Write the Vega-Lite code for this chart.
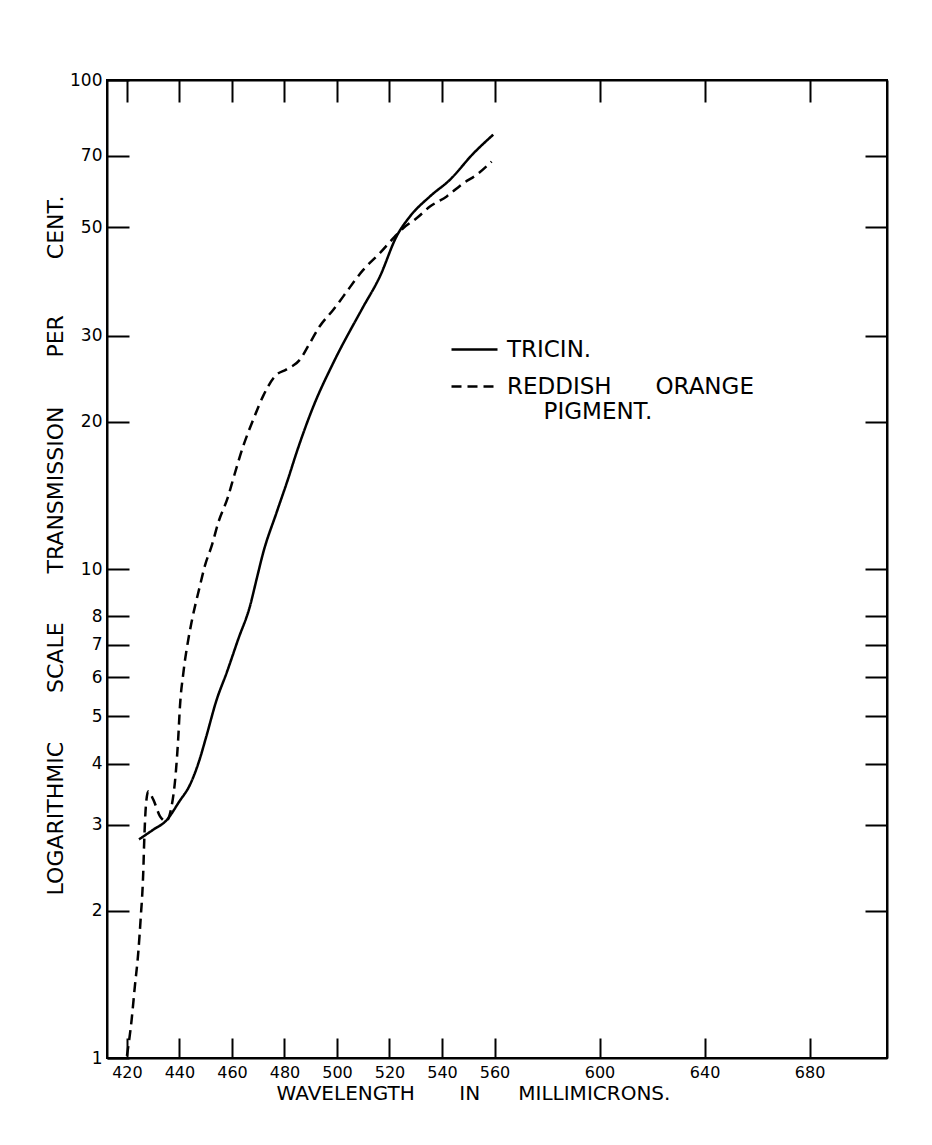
{
  "$schema": "https://vega.github.io/schema/vega-lite/v6.json",
  "width": 780,
  "height": 978,
  "autosize": "none",
  "padding": {"left": 107, "top": 80, "right": 45, "bottom": 87},
  "background": "white",
  "config": {
    "view": {"stroke": "black", "strokeWidth": 2},
    "axis": {"grid": false, "domainColor": "black", "domainWidth": 2, "tickColor": "black", "tickWidth": 2, "labelColor": "black", "titleColor": "black", "labelFont": "DejaVu Sans", "titleFont": "DejaVu Sans", "titleFontWeight": "normal"}
  },
  "data": {"values": [
    {"series": "TRICIN.", "wavelength": 424.6, "transmission": 2.80},
    {"series": "TRICIN.", "wavelength": 430, "transmission": 2.93},
    {"series": "TRICIN.", "wavelength": 435, "transmission": 3.06},
    {"series": "TRICIN.", "wavelength": 440, "transmission": 3.35},
    {"series": "TRICIN.", "wavelength": 444, "transmission": 3.62},
    {"series": "TRICIN.", "wavelength": 447.5, "transmission": 4.05},
    {"series": "TRICIN.", "wavelength": 450, "transmission": 4.5},
    {"series": "TRICIN.", "wavelength": 454.2, "transmission": 5.41},
    {"series": "TRICIN.", "wavelength": 458, "transmission": 6.14},
    {"series": "TRICIN.", "wavelength": 462.4, "transmission": 7.19},
    {"series": "TRICIN.", "wavelength": 466.9, "transmission": 8.41},
    {"series": "TRICIN.", "wavelength": 469.4, "transmission": 9.54},
    {"series": "TRICIN.", "wavelength": 471.9, "transmission": 10.8},
    {"series": "TRICIN.", "wavelength": 477, "transmission": 13.05},
    {"series": "TRICIN.", "wavelength": 481.4, "transmission": 15.3},
    {"series": "TRICIN.", "wavelength": 484.6, "transmission": 17.3},
    {"series": "TRICIN.", "wavelength": 491, "transmission": 21.5},
    {"series": "TRICIN.", "wavelength": 498.6, "transmission": 26.4},
    {"series": "TRICIN.", "wavelength": 509.5, "transmission": 34.0},
    {"series": "TRICIN.", "wavelength": 516.4, "transmission": 39.7},
    {"series": "TRICIN.", "wavelength": 522.7, "transmission": 47.9},
    {"series": "TRICIN.", "wavelength": 527.8, "transmission": 52.6},
    {"series": "TRICIN.", "wavelength": 535.4, "transmission": 57.8},
    {"series": "TRICIN.", "wavelength": 543, "transmission": 62.5},
    {"series": "TRICIN.", "wavelength": 552, "transmission": 70.8},
    {"series": "TRICIN.", "wavelength": 559.5, "transmission": 77.3},
    {"series": "REDDISH ORANGE PIGMENT.", "wavelength": 420, "transmission": 1.01},
    {"series": "REDDISH ORANGE PIGMENT.", "wavelength": 421.8, "transmission": 1.20},
    {"series": "REDDISH ORANGE PIGMENT.", "wavelength": 423, "transmission": 1.40},
    {"series": "REDDISH ORANGE PIGMENT.", "wavelength": 424.3, "transmission": 1.64},
    {"series": "REDDISH ORANGE PIGMENT.", "wavelength": 425.2, "transmission": 1.92},
    {"series": "REDDISH ORANGE PIGMENT.", "wavelength": 426.2, "transmission": 2.39},
    {"series": "REDDISH ORANGE PIGMENT.", "wavelength": 426.6, "transmission": 2.80},
    {"series": "REDDISH ORANGE PIGMENT.", "wavelength": 427.2, "transmission": 3.27},
    {"series": "REDDISH ORANGE PIGMENT.", "wavelength": 428.1, "transmission": 3.51},
    {"series": "REDDISH ORANGE PIGMENT.", "wavelength": 430, "transmission": 3.38},
    {"series": "REDDISH ORANGE PIGMENT.", "wavelength": 432.6, "transmission": 3.12},
    {"series": "REDDISH ORANGE PIGMENT.", "wavelength": 434.9, "transmission": 3.05},
    {"series": "REDDISH ORANGE PIGMENT.", "wavelength": 437, "transmission": 3.27},
    {"series": "REDDISH ORANGE PIGMENT.", "wavelength": 438.6, "transmission": 3.83},
    {"series": "REDDISH ORANGE PIGMENT.", "wavelength": 439.5, "transmission": 4.48},
    {"series": "REDDISH ORANGE PIGMENT.", "wavelength": 440.2, "transmission": 5.25},
    {"series": "REDDISH ORANGE PIGMENT.", "wavelength": 441.5, "transmission": 6.14},
    {"series": "REDDISH ORANGE PIGMENT.", "wavelength": 443.4, "transmission": 7.19},
    {"series": "REDDISH ORANGE PIGMENT.", "wavelength": 444.6, "transmission": 7.78},
    {"series": "REDDISH ORANGE PIGMENT.", "wavelength": 447.8, "transmission": 9.24},
    {"series": "REDDISH ORANGE PIGMENT.", "wavelength": 449.7, "transmission": 10.16},
    {"series": "REDDISH ORANGE PIGMENT.", "wavelength": 452.3, "transmission": 11.16},
    {"series": "REDDISH ORANGE PIGMENT.", "wavelength": 454.8, "transmission": 12.45},
    {"series": "REDDISH ORANGE PIGMENT.", "wavelength": 458.6, "transmission": 14.1},
    {"series": "REDDISH ORANGE PIGMENT.", "wavelength": 460.5, "transmission": 15.3},
    {"series": "REDDISH ORANGE PIGMENT.", "wavelength": 464.3, "transmission": 17.85},
    {"series": "REDDISH ORANGE PIGMENT.", "wavelength": 468.1, "transmission": 20.2},
    {"series": "REDDISH ORANGE PIGMENT.", "wavelength": 471.9, "transmission": 22.6},
    {"series": "REDDISH ORANGE PIGMENT.", "wavelength": 476.4, "transmission": 24.8},
    {"series": "REDDISH ORANGE PIGMENT.", "wavelength": 480.8, "transmission": 25.6},
    {"series": "REDDISH ORANGE PIGMENT.", "wavelength": 485.9, "transmission": 26.8},
    {"series": "REDDISH ORANGE PIGMENT.", "wavelength": 489.7, "transmission": 29.0},
    {"series": "REDDISH ORANGE PIGMENT.", "wavelength": 493.5, "transmission": 31.4},
    {"series": "REDDISH ORANGE PIGMENT.", "wavelength": 498.6, "transmission": 33.9},
    {"series": "REDDISH ORANGE PIGMENT.", "wavelength": 502.4, "transmission": 36.1},
    {"series": "REDDISH ORANGE PIGMENT.", "wavelength": 510, "transmission": 40.9},
    {"series": "REDDISH ORANGE PIGMENT.", "wavelength": 516.4, "transmission": 44.3},
    {"series": "REDDISH ORANGE PIGMENT.", "wavelength": 522.1, "transmission": 47.9},
    {"series": "REDDISH ORANGE PIGMENT.", "wavelength": 525.3, "transmission": 49.8},
    {"series": "REDDISH ORANGE PIGMENT.", "wavelength": 530.4, "transmission": 52.2},
    {"series": "REDDISH ORANGE PIGMENT.", "wavelength": 535.4, "transmission": 55.1},
    {"series": "REDDISH ORANGE PIGMENT.", "wavelength": 541.8, "transmission": 57.8},
    {"series": "REDDISH ORANGE PIGMENT.", "wavelength": 548.1, "transmission": 61.5},
    {"series": "REDDISH ORANGE PIGMENT.", "wavelength": 553.2, "transmission": 64.0},
    {"series": "REDDISH ORANGE PIGMENT.", "wavelength": 558.9, "transmission": 68.1}
  ]},
  "layer": [
    {
      "mark": {"type": "line", "interpolate": "monotone", "color": "black", "strokeWidth": 2.5},
      "encoding": {
        "x": {"field": "wavelength", "type": "quantitative",
          "scale": {"domain": [412.4, 709.5], "nice": false, "zero": false},
          "axis": {"orient": "bottom", "values": [420, 440, 460, 480, 500, 520, 540, 560, 600, 640, 680], "tickSize": -20, "labelPadding": 34, "labelBaseline": "middle", "labelFontSize": 16, "labelFlush": false, "labelOverlap": false,
            "title": "WAVELENGTH\u00a0\u00a0\u00a0\u00a0\u00a0\u00a0\u00a0IN\u00a0\u00a0\u00a0\u00a0\u00a0\u00a0MILLIMICRONS.", "titleFontSize": 20, "titleX": 366, "titleY": 35, "titleAlign": "center", "titleBaseline": "middle"}},
        "y": {"field": "transmission", "type": "quantitative",
          "scale": {"type": "log", "domain": [1, 100], "nice": false},
          "axis": {"orient": "left", "values": [1, 2, 3, 4, 5, 6, 7, 8, 10, 20, 30, 50, 70, 100], "tickSize": -22, "labelPadding": 27, "labelFontSize": 17, "labelFlush": false, "labelOverlap": false,
            "title": "LOGARITHMIC\u00a0\u00a0\u00a0\u00a0\u00a0\u00a0\u00a0SCALE\u00a0\u00a0\u00a0\u00a0\u00a0\u00a0\u00a0TRANSMISSION\u00a0\u00a0\u00a0\u00a0\u00a0\u00a0\u00a0PER\u00a0\u00a0\u00a0\u00a0\u00a0\u00a0\u00a0\u00a0CENT.", "titleFontSize": 22, "titleX": -52, "titleY": 465, "titleAlign": "center", "titleBaseline": "middle", "titleAngle": -90}},
        "strokeDash": {"field": "series", "type": "nominal",
          "scale": {"domain": ["TRICIN.", "REDDISH ORANGE PIGMENT."], "range": [[1, 0], [10, 6]]},
          "legend": {"title": null, "orient": "none", "legendX": 343, "legendY": 245, "symbolType": "stroke", "symbolSize": 2116, "symbolStrokeWidth": 2.5, "symbolStrokeColor": "black", "labelFontSize": 23, "labelFont": "DejaVu Sans", "labelColor": "black", "labelLimit": 0, "rowPadding": -5, "padding": 0, "labelOffset": 8,
            "labelExpr": "datum.label == 'TRICIN.' ? 'TRICIN.' : ['REDDISH\u00a0\u00a0\u00a0\u00a0\u00a0\u00a0ORANGE', '\u200b\u00a0\u00a0\u00a0\u00a0\u00a0PIGMENT.']"}}
      }
    },
    {
      "mark": {"type": "line", "opacity": 0},
      "encoding": {
        "x": {"field": "wavelength", "type": "quantitative",
          "axis": {"orient": "top", "values": [420, 440, 460, 480, 500, 520, 540, 560, 600, 640, 680], "tickSize": -22, "labels": false, "title": null}},
        "y": {"field": "transmission", "type": "quantitative",
          "axis": {"orient": "right", "values": [2, 3, 4, 5, 6, 7, 8, 10, 20, 30, 50, 70], "tickSize": -22, "labels": false, "title": null}},
        "detail": {"field": "series"}
      }
    }
  ],
  "resolve": {"axis": {"x": "independent", "y": "independent"}}
}
